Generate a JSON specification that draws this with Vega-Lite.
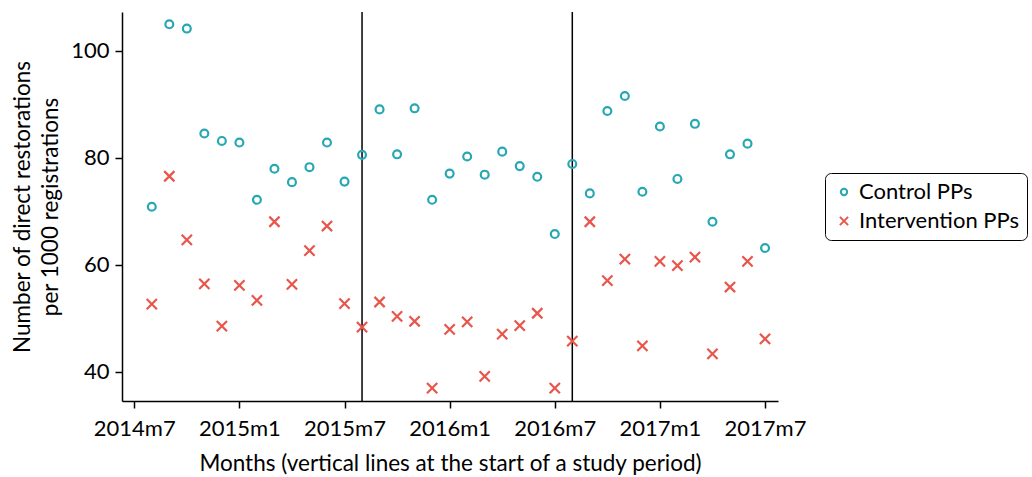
{
  "$schema": "https://vega.github.io/schema/vega-lite/v6.json",
  "width": 656,
  "height": 389,
  "autosize": {"type": "none"},
  "padding": {"left": 122, "top": 12, "right": 254, "bottom": 76},
  "background": "white",
  "config": {
    "font": "Lato",
    "view": {"stroke": null},
    "axis": {
      "domainColor": "black",
      "domainWidth": 1.5,
      "tickColor": "black",
      "tickWidth": 1.5,
      "tickSize": 7,
      "grid": false,
      "labelFont": "Lato",
      "labelFontSize": 22,
      "labelColor": "black",
      "titleFont": "Lato",
      "titleFontSize": 22.5,
      "titleFontWeight": "normal",
      "titleColor": "black"
    }
  },
  "layer": [
    {
      "data": {"values": [{"start": 13}, {"start": 25}]},
      "mark": {"type": "rule", "color": "black", "strokeWidth": 1.5},
      "encoding": {
        "x": {"field": "start", "type": "quantitative", "scale": {"domain": [-0.7, 36.74], "nice": false, "zero": false}}
      }
    },
    {
      "data": {
        "values": [
          {"t": 1, "month": "2014m8", "group": "Control PPs", "value": 70.8},
          {"t": 2, "month": "2014m9", "group": "Control PPs", "value": 104.9},
          {"t": 3, "month": "2014m10", "group": "Control PPs", "value": 104.1},
          {"t": 4, "month": "2014m11", "group": "Control PPs", "value": 84.5},
          {"t": 5, "month": "2014m12", "group": "Control PPs", "value": 83.1},
          {"t": 6, "month": "2015m1", "group": "Control PPs", "value": 82.8},
          {"t": 7, "month": "2015m2", "group": "Control PPs", "value": 72.1},
          {"t": 8, "month": "2015m3", "group": "Control PPs", "value": 77.9},
          {"t": 9, "month": "2015m4", "group": "Control PPs", "value": 75.4},
          {"t": 10, "month": "2015m5", "group": "Control PPs", "value": 78.2},
          {"t": 11, "month": "2015m6", "group": "Control PPs", "value": 82.8},
          {"t": 12, "month": "2015m7", "group": "Control PPs", "value": 75.5},
          {"t": 13, "month": "2015m8", "group": "Control PPs", "value": 80.5},
          {"t": 14, "month": "2015m9", "group": "Control PPs", "value": 89.0},
          {"t": 15, "month": "2015m10", "group": "Control PPs", "value": 80.6},
          {"t": 16, "month": "2015m11", "group": "Control PPs", "value": 89.2},
          {"t": 17, "month": "2015m12", "group": "Control PPs", "value": 72.1},
          {"t": 18, "month": "2016m1", "group": "Control PPs", "value": 77.0},
          {"t": 19, "month": "2016m2", "group": "Control PPs", "value": 80.2},
          {"t": 20, "month": "2016m3", "group": "Control PPs", "value": 76.8},
          {"t": 21, "month": "2016m4", "group": "Control PPs", "value": 81.1},
          {"t": 22, "month": "2016m5", "group": "Control PPs", "value": 78.4},
          {"t": 23, "month": "2016m6", "group": "Control PPs", "value": 76.4},
          {"t": 24, "month": "2016m7", "group": "Control PPs", "value": 65.7},
          {"t": 25, "month": "2016m8", "group": "Control PPs", "value": 78.8},
          {"t": 26, "month": "2016m9", "group": "Control PPs", "value": 73.3},
          {"t": 27, "month": "2016m10", "group": "Control PPs", "value": 88.7},
          {"t": 28, "month": "2016m11", "group": "Control PPs", "value": 91.5},
          {"t": 29, "month": "2016m12", "group": "Control PPs", "value": 73.6},
          {"t": 30, "month": "2017m1", "group": "Control PPs", "value": 85.8},
          {"t": 31, "month": "2017m2", "group": "Control PPs", "value": 76.0},
          {"t": 32, "month": "2017m3", "group": "Control PPs", "value": 86.3},
          {"t": 33, "month": "2017m4", "group": "Control PPs", "value": 68.0},
          {"t": 34, "month": "2017m5", "group": "Control PPs", "value": 80.6},
          {"t": 35, "month": "2017m6", "group": "Control PPs", "value": 82.6},
          {"t": 36, "month": "2017m7", "group": "Control PPs", "value": 63.1},
          {"t": 1, "month": "2014m8", "group": "Intervention PPs", "value": 52.6},
          {"t": 2, "month": "2014m9", "group": "Intervention PPs", "value": 76.5},
          {"t": 3, "month": "2014m10", "group": "Intervention PPs", "value": 64.6},
          {"t": 4, "month": "2014m11", "group": "Intervention PPs", "value": 56.4},
          {"t": 5, "month": "2014m12", "group": "Intervention PPs", "value": 48.5},
          {"t": 6, "month": "2015m1", "group": "Intervention PPs", "value": 56.1},
          {"t": 7, "month": "2015m2", "group": "Intervention PPs", "value": 53.3},
          {"t": 8, "month": "2015m3", "group": "Intervention PPs", "value": 68.0},
          {"t": 9, "month": "2015m4", "group": "Intervention PPs", "value": 56.3},
          {"t": 10, "month": "2015m5", "group": "Intervention PPs", "value": 62.6},
          {"t": 11, "month": "2015m6", "group": "Intervention PPs", "value": 67.2},
          {"t": 12, "month": "2015m7", "group": "Intervention PPs", "value": 52.7},
          {"t": 13, "month": "2015m8", "group": "Intervention PPs", "value": 48.3},
          {"t": 14, "month": "2015m9", "group": "Intervention PPs", "value": 53.0},
          {"t": 15, "month": "2015m10", "group": "Intervention PPs", "value": 50.3},
          {"t": 16, "month": "2015m11", "group": "Intervention PPs", "value": 49.4},
          {"t": 17, "month": "2015m12", "group": "Intervention PPs", "value": 36.9},
          {"t": 18, "month": "2016m1", "group": "Intervention PPs", "value": 47.9},
          {"t": 19, "month": "2016m2", "group": "Intervention PPs", "value": 49.3},
          {"t": 20, "month": "2016m3", "group": "Intervention PPs", "value": 39.1},
          {"t": 21, "month": "2016m4", "group": "Intervention PPs", "value": 47.0},
          {"t": 22, "month": "2016m5", "group": "Intervention PPs", "value": 48.6},
          {"t": 23, "month": "2016m6", "group": "Intervention PPs", "value": 50.9},
          {"t": 24, "month": "2016m7", "group": "Intervention PPs", "value": 36.9},
          {"t": 25, "month": "2016m8", "group": "Intervention PPs", "value": 45.7},
          {"t": 26, "month": "2016m9", "group": "Intervention PPs", "value": 68.0},
          {"t": 27, "month": "2016m10", "group": "Intervention PPs", "value": 57.0},
          {"t": 28, "month": "2016m11", "group": "Intervention PPs", "value": 61.0},
          {"t": 29, "month": "2016m12", "group": "Intervention PPs", "value": 44.8},
          {"t": 30, "month": "2017m1", "group": "Intervention PPs", "value": 60.6},
          {"t": 31, "month": "2017m2", "group": "Intervention PPs", "value": 59.8},
          {"t": 32, "month": "2017m3", "group": "Intervention PPs", "value": 61.4},
          {"t": 33, "month": "2017m4", "group": "Intervention PPs", "value": 43.3},
          {"t": 34, "month": "2017m5", "group": "Intervention PPs", "value": 55.8},
          {"t": 35, "month": "2017m6", "group": "Intervention PPs", "value": 60.6},
          {"t": 36, "month": "2017m7", "group": "Intervention PPs", "value": 46.1}
        ]
      },
      "mark": {"type": "point", "filled": false, "size": 62, "strokeWidth": 2.2, "opacity": 1},
      "encoding": {
        "x": {
          "field": "t",
          "type": "quantitative",
          "scale": {"domain": [-0.7, 36.74], "nice": false, "zero": false},
          "axis": {
            "values": [0, 6, 12, 18, 24, 30, 36],
            "labelExpr": "(2014 + floor((datum.value + 6) / 12)) + 'm' + ((datum.value + 6) % 12 + 1)",
            "labelPadding": 10,
            "title": "Months (vertical lines at the start of a study period)",
            "titlePadding": 13
          }
        },
        "y": {
          "field": "value",
          "type": "quantitative",
          "scale": {"domain": [34.5, 107.2], "nice": false, "zero": false},
          "axis": {
            "values": [40, 60, 80, 100],
            "labelPadding": 6,
            "title": ["Number of direct restorations", "per 1000 registrations"],
            "titleLineHeight": 28,
            "titlePadding": 8
          }
        },
        "color": {
          "field": "group",
          "type": "nominal",
          "scale": {"domain": ["Control PPs", "Intervention PPs"], "range": ["#27a7b3", "#e8554b"]},
          "legend": {
            "title": null,
            "orient": "none",
            "legendX": 703,
            "legendY": 161,
            "strokeColor": "black",
            "cornerRadius": 6,
            "padding": 8,
            "fillColor": "white",
            "labelFont": "Lato",
            "labelFontSize": 22,
            "labelColor": "black",
            "labelOffset": 4,
            "labelLimit": 400,
            "symbolSize": 40,
            "symbolStrokeWidth": 2,
            "rowPadding": 7,
            "encode": {"legend": {"update": {"strokeWidth": {"value": 1.5}}}}
          }
        },
        "shape": {
          "field": "group",
          "type": "nominal",
          "scale": {"domain": ["Control PPs", "Intervention PPs"], "range": ["circle", "M-1.3,-1.3L1.3,1.3M-1.3,1.3L1.3,-1.3"]},
          "legend": {
            "title": null,
            "orient": "none",
            "legendX": 703,
            "legendY": 161,
            "labelLimit": 400
          }
        }
      }
    }
  ]
}
